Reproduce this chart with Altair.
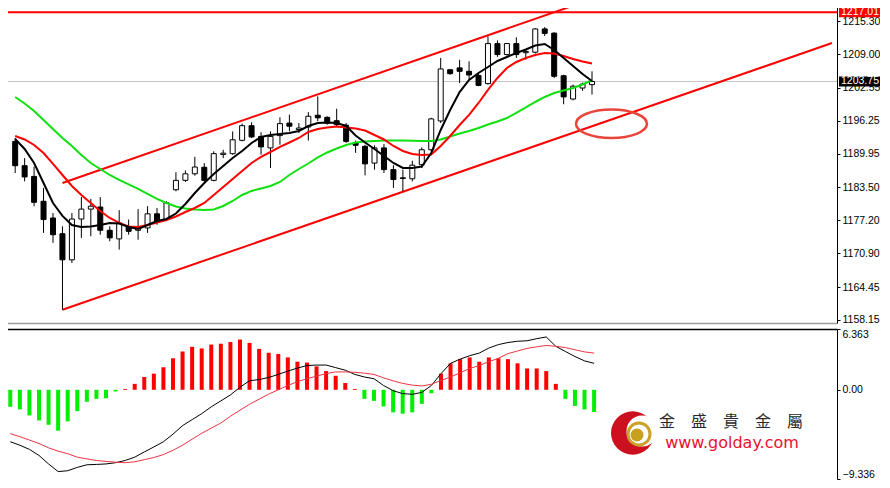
import altair as alt
import pandas as pd

# ---------------- data ----------------
candle_index = list(range(62))
opens = [1192.30, 1187.65, 1185.60, 1180.85, 1177.65, 1174.65, 1169.65, 1177.45, 1179.35, 1179.75,
         1175.30, 1173.65, 1175.95, 1175.30, 1175.75, 1178.45, 1177.35, 1183.05, 1184.85, 1186.10,
         1187.35, 1184.85, 1189.80, 1189.95, 1192.50, 1195.30, 1193.25, 1191.05, 1193.40, 1195.80,
         1194.55, 1195.05, 1197.30, 1196.90, 1196.25, 1195.40, 1192.00, 1191.35, 1188.15, 1191.05,
         1186.90, 1185.20, 1185.15, 1187.85, 1190.70, 1196.20, 1206.00, 1206.35, 1205.70, 1204.90,
         1203.35, 1211.00, 1208.90, 1211.00, 1209.25, 1209.35, 1213.80, 1213.00, 1204.85, 1200.40,
         1202.50, 1203.15]
highs = [1192.95, 1189.10, 1187.50, 1183.40, 1178.60, 1176.05, 1178.60, 1181.65, 1181.30, 1181.65,
         1176.05, 1179.15, 1177.35, 1179.35, 1179.90, 1179.55, 1180.85, 1186.40, 1186.75, 1189.35,
         1188.15, 1190.40, 1190.70, 1194.20, 1195.70, 1195.95, 1194.05, 1194.20, 1196.90, 1197.40,
         1195.80, 1197.90, 1200.90, 1197.10, 1198.55, 1195.80, 1192.45, 1191.65, 1191.55, 1191.80,
         1187.75, 1186.90, 1188.60, 1191.15, 1196.80, 1208.25, 1206.15, 1207.90, 1207.60, 1205.40,
         1212.40, 1211.60, 1211.10, 1212.20, 1209.80, 1213.95, 1214.15, 1213.15, 1205.05, 1203.15,
         1203.55, 1205.70]
lows = [1186.25, 1184.65, 1179.90, 1174.80, 1172.90, 1160.10, 1169.05, 1173.85, 1174.15, 1174.45,
        1173.20, 1171.60, 1174.45, 1173.50, 1174.80, 1176.35, 1177.05, 1182.75, 1184.55, 1185.75,
        1184.55, 1184.65, 1189.10, 1189.75, 1192.30, 1192.95, 1189.75, 1187.20, 1191.65, 1194.23,
        1193.90, 1192.45, 1196.15, 1195.50, 1195.20, 1192.00, 1190.10, 1185.80, 1186.90, 1186.25,
        1183.40, 1182.75, 1184.65, 1187.20, 1190.40, 1195.80, 1205.05, 1203.45, 1204.10, 1202.85,
        1203.15, 1208.45, 1208.70, 1208.25, 1207.90, 1209.10, 1212.45, 1204.40, 1199.40, 1200.15,
        1201.95, 1201.25]
closes = [1187.65, 1185.50, 1180.65, 1177.35, 1174.45, 1169.65, 1177.45, 1179.35, 1179.90, 1175.30,
          1173.85, 1176.70, 1175.10, 1175.95, 1178.45, 1176.85, 1180.55, 1184.85, 1186.10, 1187.40,
          1184.85, 1189.95, 1190.05, 1192.60, 1195.30, 1193.15, 1191.25, 1193.25, 1195.70, 1195.20,
          1194.85, 1197.10, 1196.80, 1195.80, 1195.50, 1192.30, 1191.55, 1188.00, 1191.05, 1186.90,
          1185.00, 1185.35, 1187.75, 1190.70, 1196.60, 1206.15, 1205.25, 1205.70, 1205.00, 1203.00,
          1211.00, 1208.90, 1211.00, 1208.90, 1209.50, 1213.80, 1212.95, 1204.75, 1200.80, 1202.85,
          1203.25, 1203.75]

ma_fast = [1192.76, 1190.85, 1188.17, 1184.35, 1180.52, 1178.04, 1176.31, 1175.93, 1176.03, 1176.31,
           1176.70, 1176.60, 1175.93, 1175.55, 1176.31, 1177.08, 1177.46, 1178.51, 1180.33, 1182.43,
           1184.35, 1186.06, 1187.60, 1189.13, 1190.46, 1191.99, 1193.14, 1193.52, 1193.71, 1193.91,
           1194.29, 1195.24, 1195.82, 1195.91, 1195.82, 1195.24, 1193.43, 1192.09, 1190.85, 1189.51,
           1188.17, 1187.21, 1187.21, 1187.50, 1190.08, 1194.48, 1198.30, 1201.74, 1204.04, 1205.38,
           1206.52, 1207.67, 1208.44, 1209.20, 1209.87, 1210.64, 1210.92, 1209.78, 1208.25, 1206.72,
           1205.19, 1203.85]
ma_mid = [1193.33, 1192.66, 1191.61, 1190.08, 1187.98, 1185.87, 1183.77, 1182.05, 1180.52, 1178.99,
          1177.65, 1176.70, 1176.03, 1175.93, 1176.31, 1176.79, 1177.27, 1177.94, 1178.80, 1179.56,
          1180.52, 1182.05, 1183.58, 1185.11, 1186.64, 1188.17, 1189.32, 1190.27, 1191.23, 1192.09,
          1192.95, 1194.10, 1194.67, 1194.96, 1195.15, 1194.96, 1194.77, 1194.38, 1193.52, 1192.66,
          1191.42, 1190.46, 1189.89, 1189.70, 1189.79, 1191.42, 1193.33, 1195.43, 1197.35, 1199.64,
          1202.13, 1204.42, 1206.33, 1207.48, 1208.25, 1208.82, 1209.20, 1209.11, 1208.63, 1208.05,
          1207.58, 1207.19]
ma_slow = [1200.79, 1199.55, 1198.11, 1196.39, 1194.67, 1192.95, 1191.42, 1189.70, 1188.17, 1187.02,
           1185.87, 1184.92, 1184.06, 1183.20, 1182.24, 1181.29, 1180.52, 1179.85, 1179.47, 1179.28,
           1179.18, 1179.28, 1179.95, 1180.90, 1182.05, 1182.82, 1183.29, 1183.77, 1184.54, 1185.87,
           1187.02, 1188.07, 1189.22, 1190.18, 1190.94, 1191.61, 1192.09, 1192.28, 1192.38, 1192.47,
           1192.47, 1192.47, 1192.43, 1192.38, 1192.38, 1192.66, 1193.24, 1193.81, 1194.29, 1194.86,
           1195.53, 1196.10, 1196.77, 1197.73, 1198.78, 1199.83, 1200.79, 1201.55, 1202.03, 1202.51,
           1203.18, 1204.04]

macd_hist = [-1.78, -2.05, -2.68, -3.21, -3.66, -4.28, -3.30, -2.23, -1.25, -0.95,
             -0.89, -0.18, 0.09, 0.62, 1.34, 1.69, 2.36, 3.30, 4.01, 4.50,
             4.33, 4.73, 4.82, 5.00, 5.26, 4.91, 4.28, 3.88, 3.75, 3.39,
             2.94, 2.85, 2.45, 1.96, 1.47, 0.71, 0.09, -0.95, -1.16, -1.74,
             -2.36, -2.50, -2.36, -1.47, -0.36, 1.69, 2.77, 3.21, 3.39, 2.94,
             3.39, 3.30, 3.21, 2.77, 2.23, 2.23, 1.96, 0.62, -0.95, -1.69,
             -2.05, -2.32]
macd_main = [-5.44, -5.80, -6.24, -6.87, -7.76, -8.56, -8.47, -8.12, -7.85, -7.81,
             -7.76, -7.63, -7.40, -7.05, -6.51, -5.98, -5.44, -4.64, -3.75, -3.12,
             -2.50, -1.78, -1.16, -0.54, 0.27, 0.95, 1.07, 1.29, 1.61, 1.96,
             2.27, 2.54, 2.59, 2.59, 2.32, 2.05, 1.61, 1.34, 1.16, 0.45,
             -0.09, -0.40, -0.47, -0.27, 0.45, 1.69, 2.77, 3.21, 3.57, 3.84,
             4.37, 4.73, 4.95, 5.08, 5.13, 5.35, 5.53, 4.55, 4.01, 3.48,
             3.03, 2.77]
macd_signal = [-4.59, -4.91, -5.26, -5.62, -6.07, -6.42, -6.69, -7.05, -7.23, -7.40,
               -7.49, -7.58, -7.63, -7.54, -7.31, -7.09, -6.78, -6.33, -5.80, -5.17,
               -4.55, -4.01, -3.48, -2.77, -2.14, -1.52, -0.98, -0.45, 0.00, 0.45,
               0.85, 1.16, 1.43, 1.69, 1.87, 1.87, 1.83, 1.74, 1.61, 1.25,
               0.94, 0.67, 0.49, 0.40, 0.58, 0.98, 1.34, 1.78, 2.23, 2.54,
               2.94, 3.30, 3.79, 4.06, 4.33, 4.50, 4.64, 4.55, 4.42, 4.19,
               3.97, 3.84]

price_ticks = [1158.15, 1164.45, 1170.90, 1177.20, 1183.50, 1189.95, 1196.25, 1202.55, 1209.00, 1215.30]
macd_ticks = [-9.336, 0.0, 6.363]
resistance_level = 1217.01
last_price = 1203.75
tag_labels = ["1217.01", "1203.75"]
channel_names = ["upper", "upper", "lower", "lower"]
channel_index = [5, 62, 5, 86.38]
channel_price = [1184.35, 1220.13, 1160.10, 1211.10]
ellipse_index = [63.06]
ellipse_price = [1195.66]
brand_name = "金\u3000盛\u3000貴\u3000金\u3000屬"
brand_url = "www.golday.com"

# ---------------- layout / style ----------------
W = 836
H_MAIN = 320
H_MACD = 150
X_DOMAIN = [-0.97, 86.38]
P_DOMAIN = [1157.57, 1218.76]
M_DOMAIN = [-9.336, 6.363]
FONT = "Liberation Sans"
LABEL_SIZE = 10.5
TAG_X = W + 23
RECT_PATH = "M -1 -0.24 L 1 -0.24 L 1 0.24 L -1 0.24 Z"
ELLIPSE_PATH = "M -1 0 A 1 0.4 0 1 1 1 0 A 1 0.4 0 1 1 -1 0 Z"

candles = pd.DataFrame({"i": candle_index, "o": opens, "h": highs, "l": lows, "c": closes})
mas = pd.DataFrame({"i": candle_index, "fast": ma_fast, "mid": ma_mid, "slow": ma_slow})
macd = pd.DataFrame({"i": candle_index, "h": macd_hist, "m": macd_main, "s": macd_signal,
                     "z": [0.0] * len(candle_index)})
channels = pd.DataFrame({"name": channel_names, "i": channel_index, "p": channel_price})
tags = pd.DataFrame({"p": [resistance_level, last_price], "label": tag_labels,
                     "bg": ["#ff0000", "#000000"], "dy": [2.0, 0.0]})

main_xaxis = alt.Axis(orient="bottom", labels=False, ticks=False, grid=False,
                      domainColor="#9c9c9c", domainWidth=1.5, title=None)
main_yaxis = alt.Axis(orient="right", values=price_ticks, format=".2f", grid=False,
                      domainColor="#000000", domainWidth=1, tickColor="#000000", tickSize=3,
                      labelPadding=2, labelFont=FONT, labelFontSize=LABEL_SIZE, labelColor="#000000",
                      title=None)


def xm():
    return alt.X("i:Q", scale=alt.Scale(domain=X_DOMAIN, nice=False, zero=False),
                 axis=main_xaxis, title=None)


def yp(field):
    return alt.Y(f"{field}:Q", scale=alt.Scale(domain=P_DOMAIN, nice=False, zero=False),
                 axis=main_yaxis, title=None)


base_c = alt.Chart(candles)
last_rule = alt.Chart(tags.iloc[[1]]).mark_rule(color="#c4c4c4", strokeWidth=1).encode(y=yp("p"))
res_rule = alt.Chart(tags.iloc[[0]]).mark_rule(color="#ff0000", strokeWidth=2).encode(y=yp("p"))
channel_lines = alt.Chart(channels).mark_line(color="#ff0000", strokeWidth=2, clip=True).encode(
    x=xm(), y=yp("p"), detail="name:N")
wicks = base_c.mark_rule(color="#000000", strokeWidth=1).encode(x=xm(), y=yp("l"), y2="h:Q")
bodies = base_c.mark_bar(width=5, stroke="#000000", strokeWidth=1).encode(
    x=xm(), y=yp("o"), y2="c:Q",
    fill=alt.condition("datum.c >= datum.o", alt.value("#ffffff"), alt.value("#000000")))
ma_slow_line = alt.Chart(mas).mark_line(color="#10e010", strokeWidth=2).encode(x=xm(), y=yp("slow"))
ma_mid_line = alt.Chart(mas).mark_line(color="#ff0000", strokeWidth=2).encode(x=xm(), y=yp("mid"))
ma_fast_line = alt.Chart(mas).mark_line(color="#000000", strokeWidth=2).encode(x=xm(), y=yp("fast"))
ellipse = alt.Chart(pd.DataFrame({"i": ellipse_index, "p": ellipse_price})).mark_point(
    shape=ELLIPSE_PATH, size=5041, filled=False, color="#e8453c", strokeWidth=2.5, opacity=1
).encode(x=xm(), y=yp("p"))
tag_box = alt.Chart(tags).mark_point(shape=RECT_PATH, size=1764, filled=True, opacity=1, clip=False).encode(
    x=alt.value(TAG_X), y=yp("p"), yOffset=alt.YOffset("dy:Q", scale=None),
    color=alt.Color("bg:N", scale=None))
tag_text = alt.Chart(tags).mark_text(color="#ffffff", font=FONT, fontSize=LABEL_SIZE, align="center",
                                     baseline="middle", clip=False).encode(
    x=alt.value(TAG_X), y=yp("p"), yOffset=alt.YOffset("dy:Q", scale=None), text="label:N")

main = alt.layer(last_rule, res_rule, channel_lines, wicks, bodies, ma_slow_line, ma_mid_line,
                 ma_fast_line, ellipse, tag_box, tag_text).properties(width=W, height=H_MAIN)

# ---------------- MACD panel ----------------
macd_xaxis = alt.Axis(orient="top", labels=False, ticks=False, grid=False,
                      domainColor="#000000", domainWidth=1.5, title=None)
macd_yaxis = alt.Axis(orient="right", values=macd_ticks, grid=False, labelFlush=True,
                      labelExpr="datum.value == 0 ? '0.00' : format(datum.value, '.3f')",
                      domainColor="#000000", domainWidth=1, tickColor="#000000", tickSize=3,
                      labelPadding=2, labelFont=FONT, labelFontSize=LABEL_SIZE, labelColor="#000000",
                      title=None)


def xd():
    return alt.X("i:Q", scale=alt.Scale(domain=X_DOMAIN, nice=False, zero=False),
                 axis=macd_xaxis, title=None)


def ym(field):
    return alt.Y(f"{field}:Q", scale=alt.Scale(domain=M_DOMAIN, nice=False, zero=False),
                 axis=macd_yaxis, title=None)


base_m = alt.Chart(macd)
hist = base_m.mark_rule(strokeWidth=4).encode(
    x=xd(), y=ym("h"), y2="z:Q",
    color=alt.condition("datum.h > 0", alt.value("#ff0000"), alt.value("#00ee00")))
main_line = base_m.mark_line(color="#000000", strokeWidth=1).encode(x=xd(), y=ym("m"))
sig_line = base_m.mark_line(color="#ee3344", strokeWidth=1).encode(x=xd(), y=ym("s"))

one = pd.DataFrame({"a": [0]})
logo_red = alt.Chart(one).mark_point(shape="circle", size=1884, filled=True, opacity=1,
                                     color="#cc1020").encode(x=alt.value(631.7), y=alt.value(104))
logo_white = alt.Chart(one).mark_point(shape="circle", size=961, filled=True, opacity=1,
                                       color="#ffffff").encode(x=alt.value(641), y=alt.value(102))
logo_ring = alt.Chart(one).mark_point(shape="circle", size=484, filled=False, opacity=1,
                                      color="#c9a227", strokeWidth=3).encode(
    x=alt.value(638), y=alt.value(105))
logo_ball = alt.Chart(one).mark_point(shape="circle", size=169, filled=True, opacity=1,
                                      color="#c8a01e").encode(x=alt.value(636), y=alt.value(106))
name_text = alt.Chart(one).mark_text(text=brand_name, font="Noto Sans CJK TC", fontSize=16,
                                     color="#2a2a2a", align="center", baseline="middle").encode(
    x=alt.value(730), y=alt.value(93))
url_text = alt.Chart(one).mark_text(text=brand_url, font="DejaVu Sans", fontSize=16,
                                    color="#e8112d", align="center", baseline="middle").encode(
    x=alt.value(731), y=alt.value(114))

macd_chart = alt.layer(hist, main_line, sig_line, logo_red, logo_white, logo_ring, logo_ball,
                       name_text, url_text).properties(width=W, height=H_MACD)

chart = alt.vconcat(main, macd_chart, spacing=2).properties(
    padding={"left": -8, "top": -5, "right": -1, "bottom": 0},
    background="#ffffff",
).configure_view(stroke=None)

chart.save("out.html", embed_options={"renderer": "svg", "actions": False})
